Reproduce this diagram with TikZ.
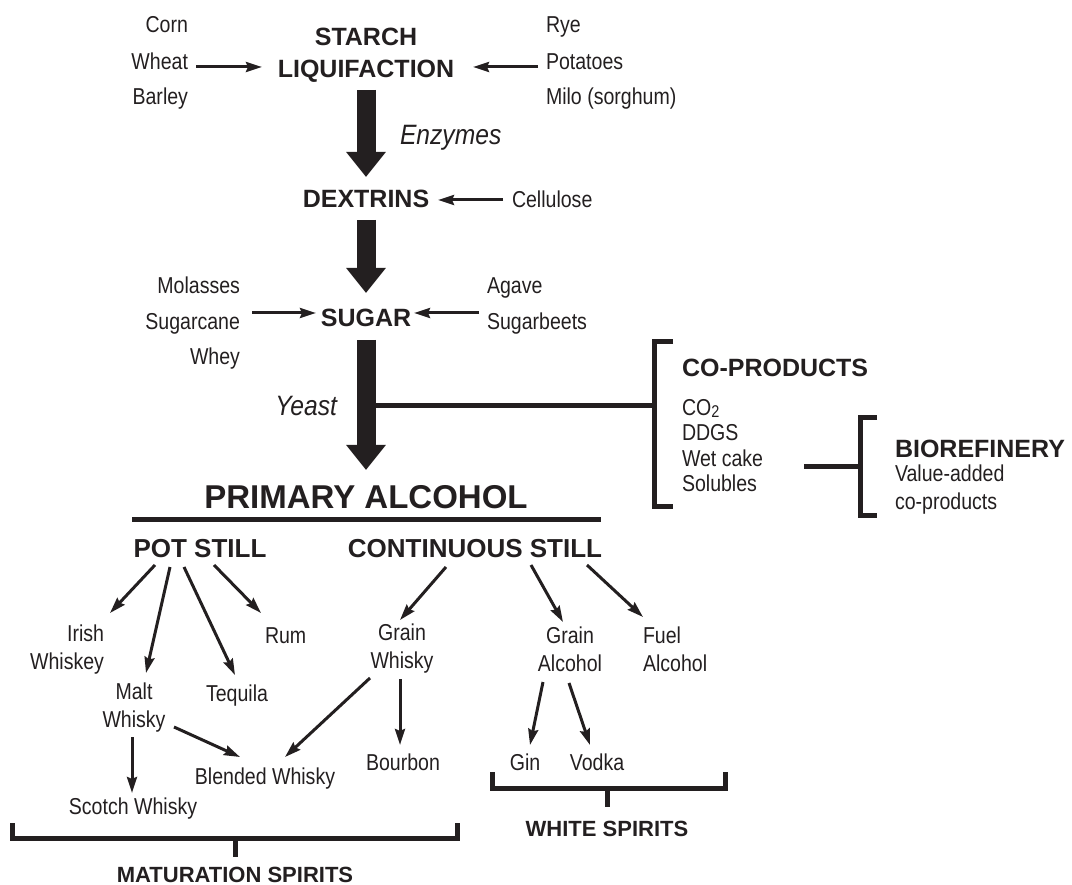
\documentclass[tikz,border=0pt]{standalone}
\usepackage{fontspec}
\setmainfont{Liberation Sans}
\newfontfamily\nf[FakeStretch=0.85]{Liberation Sans}
\newfontfamily\nfi[FakeStretch=0.88]{Liberation Sans}
\usetikzlibrary{arrows.meta}
\definecolor{ink}{HTML}{231F20}
\begin{document}
\begin{tikzpicture}[x=1pt,y=-1pt,
  every node/.style={inner sep=0pt, outer sep=0pt, text=ink},
  lbl/.style={font=\nf\fontsize{23}{28}\selectfont},
  hd/.style={font=\bfseries\fontsize{25}{30}\selectfont},
  hdl/.style={font=\bfseries\fontsize{26}{30}\selectfont},
  pri/.style={font=\bfseries\fontsize{33}{36}\selectfont},
  brl/.style={font=\bfseries\fontsize{22}{26}\selectfont},
  itl/.style={font=\nfi\itshape\fontsize{28}{30}\selectfont},
  arr/.style={draw=ink, line width=3pt, -{Stealth[length=16pt,width=10pt,inset=2pt]}},
  bigarr/.style={draw=ink, line width=19pt, -{Triangle[length=25pt,width=38pt]}},
  bar/.style={draw=ink, line width=5pt, line join=miter}]
\useasboundingbox (0,0) rectangle (1072,885);

% ---- top inputs
\node[lbl, anchor=base east] (corn)   at (188,33)  {Corn};
\node[lbl, anchor=base east] (wheat)  at (188,70)  {Wheat};
\node[lbl, anchor=base east] (barley) at (188,105) {Barley};
\node[lbl, anchor=base west] (rye)      at (546,33)  {Rye};
\node[lbl, anchor=base west] (potatoes) at (546,70)  {Potatoes};
\node[lbl, anchor=base west] (milo)     at (546,105) {Milo (sorghum)};

\node[hd, anchor=base] (starch) at (366,46) {STARCH};
\node[hd, anchor=base] (liq)    at (366,78) {LIQUIFACTION};
\node[itl, anchor=base west] (enzymes) at (400,145) {Enzymes};
\node[hd, anchor=base] (dex)    at (366,208) {DEXTRINS};
\node[lbl, anchor=base west] (cellulose) at (512,208) {Cellulose};

\node[lbl, anchor=base east] (molasses)  at (240,294) {Molasses};
\node[lbl, anchor=base east] (sugarcane) at (240,330) {Sugarcane};
\node[lbl, anchor=base east] (whey)      at (240,365) {Whey};
\node[lbl, anchor=base west] (agave)      at (487,294) {Agave};
\node[lbl, anchor=base west] (sugarbeets) at (487,330) {Sugarbeets};
\node[hd, anchor=base] (sugar) at (366,327) {SUGAR};
\node[itl, anchor=base east] (yeast) at (337,416) {Yeast};

\node[pri, anchor=base] (primary) at (366,508) {PRIMARY ALCOHOL};

% ---- co-products
\node[hd, anchor=base west] (coprod) at (682,377) {CO-PRODUCTS};
\node[lbl, anchor=base west] (co2)   at (682,416) {CO{\fontsize{17}{17}\selectfont\raisebox{-1.5pt}{2}}};
\node[lbl, anchor=base west] (ddgs)  at (682,441) {DDGS};
\node[lbl, anchor=base west] (wet)   at (682,467) {Wet cake};
\node[lbl, anchor=base west] (sol)   at (682,492) {Solubles};
\node[hd, anchor=base west] (bio) at (895,457) {BIOREFINERY};
\node[lbl, anchor=base west] (va)  at (895,482) {Value-added};
\node[lbl, anchor=base west] (cop) at (895,509) {co-products};

% ---- stills and spirits
\node[hdl, anchor=base] (potstill)  at (200,557) {POT STILL};
\node[hdl, anchor=base] (contstill) at (475,557) {CONTINUOUS STILL};

\node[lbl, align=right, anchor=east] (irish) at (104,650) {Irish\\Whiskey};
\node[lbl, align=center] (malt) at (134,708) {Malt\\Whisky};
\node[lbl, anchor=base] (tequila) at (237,701) {Tequila};
\node[lbl, anchor=base west] (rum) at (265,643) {Rum};
\node[lbl, align=center] (grainw) at (402,649) {Grain\\Whisky};
\node[lbl, align=center] (graina) at (570,649) {Grain\\Alcohol};
\node[lbl, align=left, anchor=west] (fuel) at (643,649) {Fuel\\Alcohol};
\node[lbl, anchor=base] (blended) at (265,784) {Blended Whisky};
\node[lbl, anchor=base] (bourbon) at (403,770) {Bourbon};
\node[lbl, anchor=base] (scotch)  at (133,814) {Scotch Whisky};
\node[lbl, anchor=base] (gin)     at (525,770) {Gin};
\node[lbl, anchor=base] (vodka)   at (597,770) {Vodka};

\node[brl, anchor=base] (white) at (607,836) {WHITE SPIRITS};
\node[brl, anchor=base] (matur) at (235,882) {MATURATION SPIRITS};

% ---- thin arrows, top
\draw[arr] ([shift={(8,-3)}]wheat.base east) -- ([shift={(-104,-11)}]liq.base);
\draw[arr] ([shift={(-8,-3)}]potatoes.base west) -- ([shift={(107,-11)}]liq.base);
\draw[arr] ([shift={(-9,-8)}]cellulose.base west) -- ([shift={(72,-8)}]dex.base);
\draw[arr] ([shift={(12,-17)}]sugarcane.base east) -- ([shift={(-50,-14)}]sugar.base);
\draw[arr] ([shift={(-8,-17)}]sugarbeets.base west) -- ([shift={(48,-14)}]sugar.base);

% ---- co-product links
\coordinate (cpj) at (654,406);
\draw[bar] ([shift={(0,79)}]sugar.base) -- (cpj);
\draw[bar] (673,342) -- (654,342) -- (654,506) -- (673,506);
\coordinate (cpo) at (804,467);
\coordinate (bij) at (860,467);
\draw[bar] (cpo) -- (bij);
\draw[bar] (877,418) -- (860,418) -- (860,515) -- (877,515);

% ---- big arrows
\draw[bigarr] ([shift={(0,12)}]liq.base) -- ([shift={(0,-31)}]dex.base);
\draw[bigarr] ([shift={(0,12)}]dex.base) -- ([shift={(0,-34)}]sugar.base);
\draw[bigarr] ([shift={(0,13)}]sugar.base) -- ([shift={(0,-38)}]primary.base);

% ---- primary underline
\draw[bar] (132,519) -- (601,519);

% ---- pot still arrows
\draw[arr] ([shift={(-45,8)}]potstill.base) -- ([shift={(6,-37)}]irish.east);
\draw[arr] ([shift={(-30,10)}]potstill.base) -- ([shift={(12,-35)}]malt.center);
\draw[arr] ([shift={(-16,10)}]potstill.base) -- ([shift={(-2,-26)}]tequila.base);
\draw[arr] ([shift={(14,8)}]potstill.base) -- ([shift={(-4,-30)}]rum.base west);

% ---- continuous still arrows
\draw[arr] ([shift={(-29,10)}]contstill.base) -- ([shift={(-2,-29)}]grainw.center);
\draw[arr] ([shift={(56,8)}]contstill.base) -- ([shift={(-7,-27)}]graina.center);
\draw[arr] ([shift={(112,8)}]contstill.base) -- ([shift={(0,-32)}]fuel.west);

% ---- lower arrows
\draw[arr] ([shift={(-32,29)}]grainw.center) -- ([shift={(20,-27)}]blended.base);
\draw[arr] ([shift={(-2,30)}]grainw.center) -- ([shift={(-3,-25)}]bourbon.base);
\draw[arr] ([shift={(40,19)}]malt.center) -- ([shift={(-25,-27)}]blended.base);
\draw[arr] ([shift={(-2,29)}]malt.center) -- ([shift={(-1,-21)}]scotch.base);
\draw[arr] ([shift={(-27,33)}]graina.center) -- ([shift={(5,-25)}]gin.base);
\draw[arr] ([shift={(-1,34)}]graina.center) -- ([shift={(-7,-25)}]vodka.base);

% ---- brackets
\draw[bar] (492,772) -- (492,788) -- (725,788) -- (725,772);
\draw[bar] (607,788) -- (607,807);
\draw[bar] (12,823) -- (12,838) -- (457,838) -- (457,823);
\draw[bar] (235,838) -- (235,857);
\end{tikzpicture}
\end{document}
